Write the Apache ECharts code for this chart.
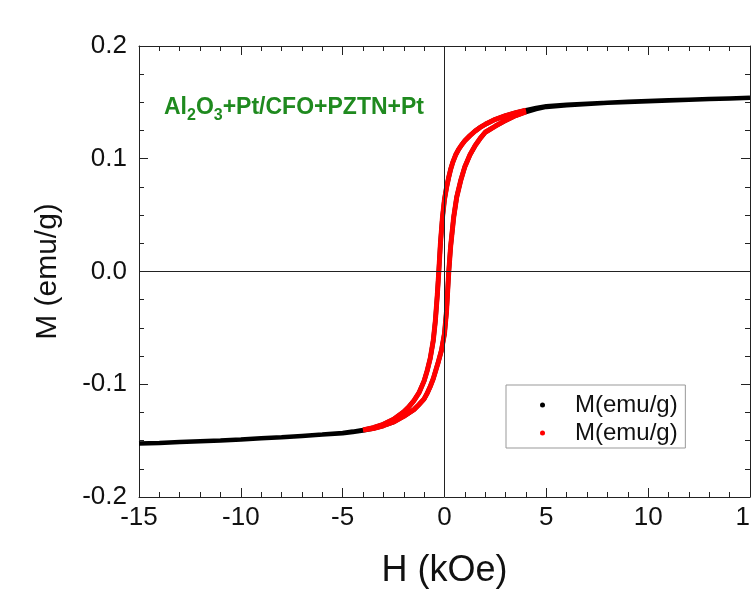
<!DOCTYPE html>
<html>
<head>
<meta charset="utf-8">
<script src="https://cdn.jsdelivr.net/npm/echarts@6/dist/echarts.min.js"></script>
<style>
  html, body { margin: 0; padding: 0; background: #fff; }
  #chart { width: 751px; height: 592px; }
</style>
</head>
<body>
<div id="chart"></div>
<script>
// descending branch, H from +15 down to -15 (kOe), M in emu/g
const hDown = [15, 14, 13, 12, 11, 10, 9, 8, 7, 6, 5, 4.5, 4, 3.5, 3, 2.5, 2, 1.75, 1.5, 1.25, 1.0, 0.85, 0.7, 0.55, 0.4, 0.3, 0.2, 0.1, 0, -0.1, -0.2, -0.28, -0.35, -0.45, -0.55, -0.7, -0.85, -1.0, -1.25, -1.5, -1.75, -2.0, -2.5, -3, -3.5, -4, -4.5, -5, -6, -7, -8, -9, -10, -11, -12, -13, -14, -15];
const mDown = [0.1540, 0.1535, 0.1530, 0.1524, 0.1518, 0.1512, 0.1505, 0.1497, 0.1488, 0.1478, 0.1465, 0.1450, 0.1430, 0.1408, 0.1383, 0.1350, 0.1305, 0.1278, 0.1245, 0.1205, 0.1160, 0.1125, 0.1085, 0.1035, 0.0965, 0.0905, 0.0830, 0.0745, 0.0640, 0.0480, 0.0250, 0.0000, -0.0200, -0.0440, -0.0610, -0.0770, -0.0880, -0.0970, -0.1075, -0.1145, -0.1200, -0.1245, -0.1310, -0.1355, -0.1385, -0.1405, -0.1420, -0.1432, -0.1446, -0.1458, -0.1470, -0.1480, -0.1490, -0.1499, -0.1506, -0.1513, -0.1520, -0.1525];
// ascending branch, H from -15 up to +15
const hUp = [-15, -14, -13, -12, -11, -10, -9, -8, -7, -6, -5, -4.5, -4, -3.5, -3, -2.5, -2, -1.75, -1.5, -1.25, -1.0, -0.85, -0.7, -0.55, -0.4, -0.3, -0.15, 0, 0.1, 0.21, 0.3, 0.45, 0.6, 0.8, 1.0, 1.25, 1.5, 1.75, 2.0, 2.5, 3, 3.5, 4, 4.5, 5, 6, 7, 8, 9, 10, 11, 12, 13, 14, 15];
const mUp = [-0.1525, -0.1520, -0.1513, -0.1506, -0.1499, -0.1490, -0.1480, -0.1470, -0.1458, -0.1446, -0.1434, -0.1423, -0.1410, -0.1393, -0.1368, -0.1335, -0.1285, -0.1255, -0.1225, -0.1180, -0.1130, -0.1080, -0.1020, -0.0950, -0.0860, -0.0800, -0.0700, -0.0550, -0.0350, 0.0000, 0.0220, 0.0480, 0.0660, 0.0810, 0.0930, 0.1035, 0.1115, 0.1180, 0.1235, 0.1290, 0.1340, 0.1383, 0.1415, 0.1440, 0.1460, 0.1475, 0.1486, 0.1496, 0.1504, 0.1511, 0.1517, 0.1523, 0.1529, 0.1535, 0.1540];
// red measurement covers the low-field part of the loop
const redLimit = 4;

const legendNames = ['M(emu/g)', 'M(emu/g) '];

let loopBlack = hDown.map((h, i) => [h, mDown[i]]).concat(hUp.map((h, i) => [h, mUp[i]]));
let loopRed = loopBlack.filter(p => Math.abs(p[0]) <= redLimit);

const font = '"Liberation Sans", Arial, sans-serif';
const axisColor = '#222';

function xAx(pos, showLabel) {
  return {
    type: 'value', position: pos, min: -15, max: 15, interval: 5,
    name: showLabel ? 'H (kOe)' : '', nameLocation: 'middle', nameGap: 56,
    nameTextStyle: { fontSize: 36, color: '#111', fontFamily: font },
    axisLine: { show: true, onZero: false, lineStyle: { color: axisColor, width: 1 } },
    axisTick: { show: true, inside: true, length: 9, lineStyle: { color: axisColor } },
    minorTick: { show: true, splitNumber: 5, length: 5, lineStyle: { color: axisColor } },
    axisLabel: { show: showLabel, fontSize: 26, color: '#111', fontFamily: font, margin: 8 },
    splitLine: { show: false }
  };
}
function yAx(pos, showLabel) {
  return {
    type: 'value', position: pos, min: -0.2, max: 0.2, interval: 0.1,
    name: showLabel ? 'M (emu/g)' : '', nameLocation: 'middle', nameGap: 76,
    nameTextStyle: { fontSize: 30, color: '#111', fontFamily: font },
    axisLine: { show: true, onZero: false, lineStyle: { color: axisColor, width: 1 } },
    axisTick: { show: true, inside: true, length: 9, lineStyle: { color: axisColor } },
    minorTick: { show: true, splitNumber: 4, length: 5, lineStyle: { color: axisColor } },
    axisLabel: { show: showLabel, fontSize: 26, color: '#111', fontFamily: font, margin: 12,
      formatter: v => v.toFixed(1) },
    splitLine: { show: false }
  };
}

let chart = echarts.init(document.getElementById('chart'), null, { renderer: 'canvas' });
chart.setOption({
  animation: false,
  backgroundColor: '#fff',
  grid: { left: 139, right: 1, top: 46, bottom: 95, outerBoundsMode: 'none', containLabel: false },
  xAxis: [xAx('bottom', true), xAx('top', false)],
  yAxis: [yAx('left', true), yAx('right', false)],
  legend: {
    left: 506, top: 385, orient: 'vertical',
    padding: [8, 1, 3, 34], itemGap: 4,
    itemWidth: 5, itemHeight: 5,
    borderColor: '#999', borderWidth: 1, backgroundColor: '#fff',
    textStyle: { fontSize: 24, lineHeight: 24, color: '#111', fontFamily: font, padding: [0, 0, 0, 25] },
    data: [
      { name: legendNames[0], icon: 'circle', itemStyle: { color: '#000' } },
      { name: legendNames[1], icon: 'circle', itemStyle: { color: '#ff0000' } }
    ]
  },
  graphic: [{
    type: 'text', left: 164, top: 96,
    style: {
      text: '{a|Al}{s|2}{a|O}{s|3}{a|+Pt/CFO+PZTN+Pt}',
      rich: {
        a: { fontSize: 23, fontWeight: 'bold', fill: '#1f8a1f', fontFamily: font, lineHeight: 24 },
        s: { fontSize: 16, fontWeight: 'bold', fill: '#1f8a1f', fontFamily: font, padding: [17, 0, 0, 0] }
      }
    }
  }],
  series: [
    {
      name: legendNames[0], type: 'line', data: loopBlack, showSymbol: false,
      itemStyle: { color: '#000' }, lineStyle: { color: '#000', width: 4.5 },
      silent: true, z: 2,
      markLine: {
        silent: true, symbol: 'none', label: { show: false },
        lineStyle: { color: axisColor, width: 1, type: 'solid' },
        data: [{ xAxis: 0 }, { yAxis: 0 }]
      }
    },
    {
      name: legendNames[1], type: 'line', data: loopRed, showSymbol: false,
      itemStyle: { color: '#ff0000' }, lineStyle: { color: '#ff0000', width: 5 },
      silent: true, z: 3
    }
  ]
});
</script>
</body>
</html>
